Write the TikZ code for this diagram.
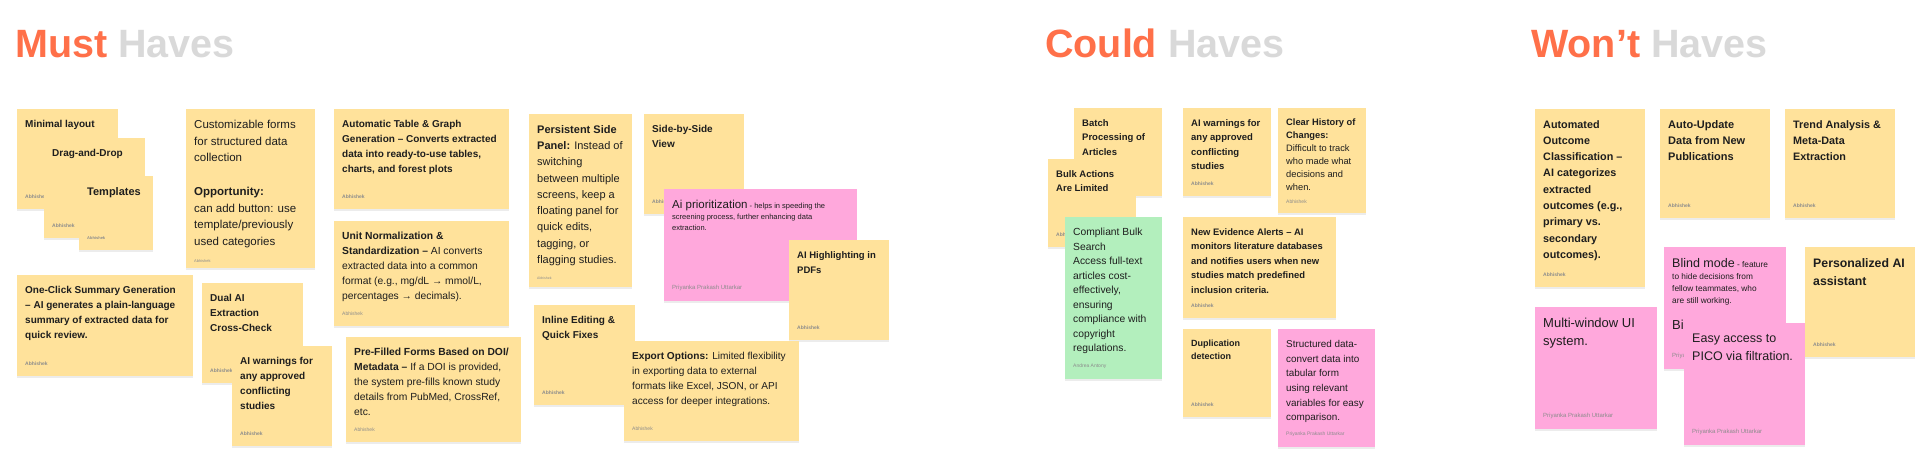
\documentclass[tikz,border=0pt]{standalone}
\usepackage{fontspec}
\setmainfont{Liberation Sans}
\usetikzlibrary{shadows}

\definecolor{stickyyellow}{HTML}{FFE29B}
\definecolor{stickypink}{HTML}{FFA8DC}
\definecolor{stickygreen}{HTML}{B3EFBD}
\definecolor{headorange}{HTML}{FF7049}
\definecolor{headgray}{HTML}{D9D9D9}
\definecolor{inkdark}{HTML}{1E1E1E}
\definecolor{authorgray}{HTML}{8C8C8C}

\newcommand{\stickytext}[4]{%
  \parbox[t][\dimexpr#2pt-22pt\relax][s]{\dimexpr#1pt-16pt\relax}{\raggedright#3\par\vfill
  {\color{authorgray}\fontsize{5}{6}\selectfont#4}}}
\newcommand{\fsz}[2]{\fontsize{#1}{#2}\selectfont}

\tikzset{
  sticky/.style={anchor=north west, inner xsep=8pt, inner ysep=11pt, text=inkdark,
    font=\fsz{10}{15},
    drop shadow={shadow xshift=0pt, shadow yshift=-1.5pt, opacity=0.15}},
  yellownote/.style={sticky, fill=stickyyellow},
  pinknote/.style={sticky, fill=stickypink},
  greennote/.style={sticky, fill=stickygreen},
  heading/.style={anchor=base west, inner sep=0pt, font=\bfseries\fsz{39.5}{40}}
}

\begin{document}
\begin{tikzpicture}[x=1pt, y=-1pt]
    \useasboundingbox (0,0) rectangle (1920,475);
    \fill[white] (0,0) rectangle (1920,475);

    \node[heading] (musthead) at (15,57) {\textcolor{headorange}{Must} \textcolor{headgray}{Haves}};
    \node[heading] (couldhead) at (1045,57) {\textcolor{headorange}{Could} \textcolor{headgray}{Haves}};
    \node[heading] (wonthead) at (1531,57) {\textcolor{headorange}{Won’t} \textcolor{headgray}{Haves}};

    % must haves
    \node[yellownote] (minimal) at (17,109) {\stickytext{101}{100}{\bfseries Minimal layout}{Abhishek}};
    \node[yellownote] (dragdrop) at (44,138) {\stickytext{101}{100}{\bfseries Drag-and-Drop}{Abhishek}};
    \node[yellownote] (templates) at (79,176) {\stickytext{74}{74}{\bfseries\fsz{11}{15} Templates}{\fsz{4}{5}Abhishek}};
    \node[yellownote] (custforms) at (186,109) {\stickytext{129}{159}{\fsz{11.5}{16.7}Customizable forms\\for structured data\\collection\\[16.7pt]\textbf{Opportunity:}\\can add button: use\\template/previously\\used categories}{\fsz{4}{5}Abhishek}};
    \node[yellownote] (oneclick) at (17,275) {\stickytext{176}{101}{\bfseries One-Click Summary Generation\\– AI generates a plain-language\\summary of extracted data for\\quick review.}{Abhishek}};
    \node[yellownote] (dualai) at (202,283) {\stickytext{101}{100}{\bfseries Dual AI\\Extraction\\Cross-Check}{Abhishek}};
    \node[yellownote] (warnmust) at (232,346) {\stickytext{100}{100}{\bfseries AI warnings for\\any approved\\conflicting\\studies}{Abhishek}};
    \node[yellownote] (autotable) at (334,109) {\stickytext{175}{100}{\bfseries Automatic Table \& Graph\\Generation – Converts extracted\\data into ready-to-use tables,\\charts, and forest plots}{Abhishek}};
    \node[yellownote] (unitnorm) at (334,221) {\stickytext{175}{105}{\fsz{10.3}{15}\textbf{Unit Normalization \&}\\\textbf{Standardization –} AI converts\\extracted data into a common\\format (e.g., mg/dL → mmol/L,\\percentages → decimals).}{Abhishek}};
    \node[yellownote] (prefilled) at (346,337) {\stickytext{175}{105}{\fsz{10.3}{15}\textbf{Pre-Filled Forms Based on DOI/}\\\textbf{Metadata –} If a DOI is provided,\\the system pre-fills known study\\details from PubMed, CrossRef,\\etc.}{Abhishek}};
    \node[yellownote] (sidepanel) at (529,114) {\stickytext{103}{173}{\fsz{11}{16.3}\textbf{Persistent Side}\\\textbf{Panel:} Instead of\\switching\\between multiple\\screens, keep a\\floating panel for\\quick edits,\\tagging, or\\flagging studies.}{\fsz{3.5}{4}Abhishek}};
    \node[yellownote] (inlineedit) at (534,305) {\stickytext{101}{100}{\bfseries Inline Editing \&\\Quick Fixes}{Abhishek}};
    \node[yellownote] (sidebyside) at (644,114) {\stickytext{100}{100}{\bfseries Side-by-Side\\View}{Abhishek}};
    \node[pinknote] (aiprior) at (664,189) {\stickytext{193}{111}{\fsz{7.5}{11}{\fsz{11.5}{14}Ai prioritization} - helps in speeding the\\screening process, further enhancing data\\extraction.}{\fsz{6}{7}Priyanka Prakash Uttarkar}};
    \node[yellownote] (aihighlight) at (789,240) {\stickytext{100}{100}{\bfseries\fsz{9.5}{15}AI Highlighting in\\PDFs}{Abhishek}};
    \node[yellownote] (exportopt) at (624,341) {\stickytext{175}{100}{\fsz{10.1}{15}\textbf{Export Options:} Limited flexibility\\in exporting data to external\\formats like Excel, JSON, or API\\access for deeper integrations.}{Abhishek}};

    % could haves
    \node[yellownote] (batchproc) at (1074,108) {\stickytext{88}{88}{\bfseries\fsz{9.5}{14.5}Batch\\Processing of\\Articles}{Abhishek}};
    \node[yellownote] (bulkact) at (1048,159) {\stickytext{88}{88}{\bfseries\fsz{9.5}{14.5}Bulk Actions\\Are Limited}{Abhishek}};
    \node[greennote] (bulksearch) at (1065,217) {\stickytext{97}{161}{\fsz{10.3}{14.5}Compliant Bulk\\Search\\Access full-text\\articles cost-\\effectively,\\ensuring\\compliance with\\copyright\\regulations.}{Andrea Antony}};
    \node[yellownote] (warncould) at (1183,108) {\stickytext{88}{88}{\bfseries\fsz{9.5}{14.5}AI warnings for\\any approved\\conflicting\\studies}{Abhishek}};
    \node[yellownote] (history) at (1278,108) {\stickytext{88}{105}{\fsz{9.3}{13}\textbf{Clear History of}\\\textbf{Changes:}\\Difficult to track\\who made what\\decisions and\\when.}{Abhishek}};
    \node[yellownote] (alerts) at (1183,217) {\stickytext{153}{101}{\bfseries\fsz{9.4}{14.5}New Evidence Alerts – AI\\monitors literature databases\\and notifies users when new\\studies match predefined\\inclusion criteria.}{Abhishek}};
    \node[yellownote] (duplication) at (1183,329) {\stickytext{88}{88}{\bfseries\fsz{9}{13}Duplication\\detection}{Abhishek}};
    \node[pinknote] (structdata) at (1278,329) {\stickytext{97}{117}{\fsz{9.9}{14.7}Structured data-\\convert data into\\tabular form\\using relevant\\variables for easy\\comparison.}{Priyanka Prakash Uttarkar}};

    % won't haves
    \node[yellownote] (outcome) at (1535,109) {\stickytext{110}{178}{\bfseries\fsz{10.8}{16.3}Automated\\Outcome\\Classification –\\AI categorizes\\extracted\\outcomes (e.g.,\\primary vs.\\secondary\\outcomes).}{Abhishek}};
    \node[yellownote] (autoupdate) at (1660,109) {\stickytext{110}{109}{\bfseries\fsz{11}{16.3}Auto-Update\\Data from New\\Publications}{Abhishek}};
    \node[yellownote] (trend) at (1785,109) {\stickytext{110}{109}{\bfseries\fsz{10.8}{16.3}Trend Analysis \&\\Meta-Data\\Extraction}{Abhishek}};
    \node[pinknote] (multiwin) at (1535,307) {\stickytext{122}{121}{\fsz{13}{18.3}Multi-window UI\\system.}{\fsz{6}{7}Priyanka Prakash Uttarkar}};
    \node[pinknote] (blindmode) at (1664,247) {\stickytext{122}{121}{\fsz{8.3}{12}{\fsz{12.5}{15}Blind mode} - feature\\to hide decisions from\\fellow teammates, who\\are still working.\\[14pt]{\fsz{13}{18}Bi}}{\fsz{6}{7}Priyanka Prakash Uttarkar}};
    \node[pinknote] (picoaccess) at (1684,323) {\stickytext{121}{121}{\fsz{12.5}{18}Easy access to\\PICO via filtration.}{\fsz{6}{7}Priyanka Prakash Uttarkar}};
    \node[yellownote] (personal) at (1805,247) {\stickytext{110}{110}{\bfseries\fsz{12.3}{18.3}Personalized AI\\assistant}{Abhishek}};
\end{tikzpicture}
\end{document}
